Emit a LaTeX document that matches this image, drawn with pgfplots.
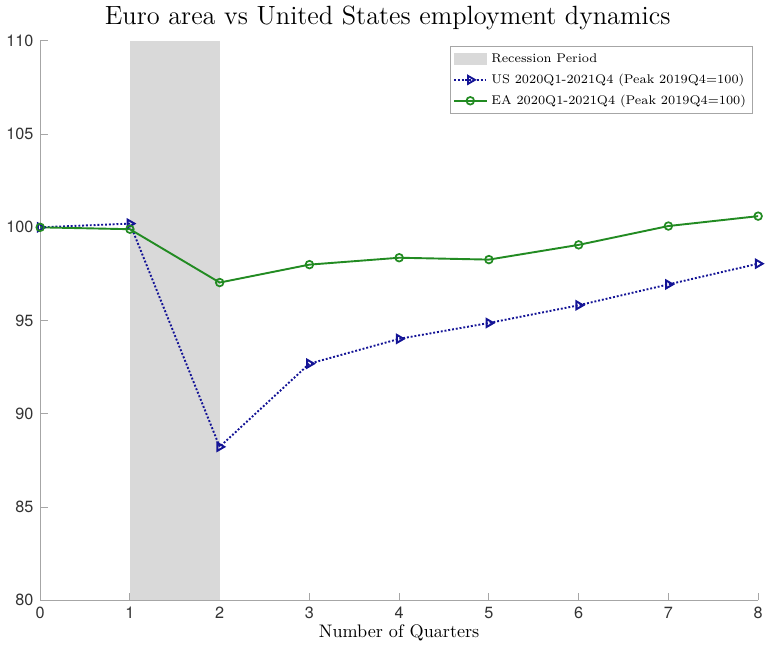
\documentclass[border=0pt]{standalone}
\usepackage{pgfplots}
\pgfplotsset{compat=1.18}
\usepackage{fontspec}
\newfontfamily\tickfont{TeX Gyre Heros}
\definecolor{usblue}{RGB}{20,20,150}
\definecolor{eagreen}{RGB}{34,139,34}
\definecolor{recgray}{RGB}{217,217,217}
\begin{document}
\begin{tikzpicture}
\begin{axis}[
  scale only axis,
  width=376pt, height=293pt,
  xmin=0, xmax=8, ymin=80, ymax=110,
  xtick={0,...,8}, ytick={80,85,...,110},
  axis lines*=left,
  axis line style={gray!70, line width=0.6pt},
  tick style={gray!70, line width=0.5pt},
  tick align=inside,
  major tick length=4pt,
  /pgf/number format/assume math mode=true,
  ticklabel style={font=\tickfont\fontsize{8.5}{10}\selectfont, text=black!80},
  xlabel={Number of Quarters},
  xlabel style={font=\fontsize{9.5}{11}\selectfont, yshift=4pt},
  title={Euro area vs United States employment dynamics},
  title style={font=\fontsize{13.8}{16}\selectfont, yshift=-4pt, xshift=-6pt},
  legend style={at={(rel axis cs:0.993,0.99)}, anchor=north east,
    font=\fontsize{6.6}{8.2}\selectfont, draw=gray!70, row sep=0.5pt,
    inner sep=1.5pt},
  legend cell align=left,
  clip=false,
]
% recession shading between quarter 1 and quarter 2
\addplot[fill=recgray, draw=none, area legend,
  legend image code/.code={\fill[recgray] (0cm,-0.11cm) rectangle (0.6cm,0.11cm);}]
  coordinates {(1,80) (1,110) (2,110) (2,80)} -- cycle;
\addlegendentry{Recession Period}
% United States
\addplot[usblue, densely dotted, line width=1pt, mark=triangle, mark size=2.4pt,
  mark options={solid, rotate=-90, line width=1pt}] coordinates {
  (0,100.0) (1,100.2) (2,88.23) (3,92.69) (4,94.02) (5,94.87) (6,95.82) (7,96.94) (8,98.05)};
\addlegendentry{US 2020Q1-2021Q4 (Peak 2019Q4=100)}
% Euro area
\addplot[eagreen, line width=1pt, mark=o, mark size=2pt,
  mark options={solid, line width=0.9pt}] coordinates {
  (0,100.0) (1,99.9) (2,97.04) (3,98.0) (4,98.37) (5,98.27) (6,99.06) (7,100.07) (8,100.6)};
\addlegendentry{EA 2020Q1-2021Q4 (Peak 2019Q4=100)}
\end{axis}
\end{tikzpicture}
\end{document}
